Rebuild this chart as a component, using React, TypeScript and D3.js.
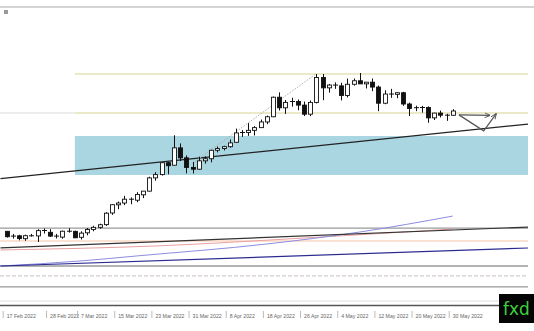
import React from "react";
import * as d3 from "d3";

const leadDates = ["16 Feb 2022"];
const candleDates = [
  "17 Feb 2022","18 Feb 2022","21 Feb 2022","22 Feb 2022","23 Feb 2022","24 Feb 2022","25 Feb 2022","28 Feb 2022",
  "1 Mar 2022","2 Mar 2022","3 Mar 2022","4 Mar 2022","7 Mar 2022","8 Mar 2022","9 Mar 2022","10 Mar 2022","11 Mar 2022",
  "14 Mar 2022","15 Mar 2022","16 Mar 2022","17 Mar 2022","18 Mar 2022","21 Mar 2022","22 Mar 2022","23 Mar 2022","24 Mar 2022","25 Mar 2022",
  "28 Mar 2022","29 Mar 2022","30 Mar 2022","31 Mar 2022","1 Apr 2022","4 Apr 2022","5 Apr 2022","6 Apr 2022","7 Apr 2022","8 Apr 2022",
  "11 Apr 2022","12 Apr 2022","13 Apr 2022","14 Apr 2022","15 Apr 2022","18 Apr 2022","19 Apr 2022","20 Apr 2022","21 Apr 2022","22 Apr 2022",
  "25 Apr 2022","26 Apr 2022","27 Apr 2022","28 Apr 2022","29 Apr 2022","2 May 2022","3 May 2022","4 May 2022","5 May 2022","6 May 2022",
  "9 May 2022","10 May 2022","11 May 2022","12 May 2022","13 May 2022","16 May 2022","17 May 2022","18 May 2022","19 May 2022","20 May 2022",
  "23 May 2022","24 May 2022","25 May 2022","26 May 2022","27 May 2022","30 May 2022"
];
const futureDates = ["31 May 2022","1 Jun 2022","2 Jun 2022","3 Jun 2022","6 Jun 2022","7 Jun 2022","8 Jun 2022","9 Jun 2022","10 Jun 2022","13 Jun 2022","14 Jun 2022","15 Jun 2022"];

const opens = [
  115.47,114.94,115.02,114.73,115.02,115.01,115.52,115.37,
  114.99,114.89,115.48,115.47,114.87,115.32,115.66,115.87,116.14,
  117.31,118.13,118.31,118.69,118.59,119.13,119.50,120.83,121.16,122.35,
  122.10,123.84,122.84,121.88,121.70,122.54,122.75,123.60,123.78,123.96,
  124.40,125.34,125.38,125.60,125.87,126.44,126.96,128.92,127.86,128.40,
  128.49,128.13,127.22,128.40,130.90,129.86,130.14,130.06,129.09,130.22,
  130.57,130.26,130.43,129.94,128.32,129.24,129.21,129.37,128.24,127.79,
  127.87,127.89,126.85,127.33,127.12,127.11
];
const highs = [
  115.50,115.21,115.12,115.14,115.21,115.69,115.76,115.69,
  115.21,115.54,115.79,115.53,115.47,115.80,116.02,116.23,117.39,
  118.18,118.45,119.03,118.87,119.40,119.51,120.95,121.41,122.42,122.44,
  125.10,124.29,123.08,122.43,122.96,122.98,123.65,123.98,124.05,124.68,
  125.77,125.63,126.32,126.02,126.68,127.08,128.99,129.41,128.64,128.87,
  128.70,128.48,128.59,131.25,131.25,130.25,130.41,130.37,130.79,130.80,
  131.35,130.44,130.80,130.09,129.62,129.76,129.40,129.46,128.38,128.07,
  128.05,128.00,127.36,127.58,127.26,127.72
];
const lows = [
  114.84,114.74,114.57,114.52,114.94,114.40,115.25,114.91,
  114.75,114.73,115.34,114.81,114.65,115.07,115.47,115.73,116.02,
  117.12,117.69,118.10,118.19,118.39,118.80,119.46,120.54,121.06,121.19,
  122.08,122.52,121.28,121.27,121.66,122.26,122.39,123.39,123.58,123.86,
  124.34,124.94,125.04,125.08,125.87,126.22,126.92,127.59,127.25,127.98,
  127.61,127.03,127.02,128.30,128.62,129.38,129.76,128.60,128.90,130.08,
  130.32,129.80,129.53,127.52,128.22,128.86,128.82,128.06,127.03,127.52,
  127.37,126.36,126.63,126.89,126.55,127.07
];
const closes = [
  114.93,114.99,114.74,115.03,115.00,115.54,115.55,114.99,
  114.88,115.48,115.47,114.82,115.29,115.66,115.87,116.13,117.29,
  118.14,118.31,118.69,118.59,119.16,119.50,120.83,121.16,122.35,122.05,
  123.84,122.84,121.87,121.70,122.54,122.75,123.60,123.77,123.96,124.34,
  125.34,125.38,125.60,125.87,126.44,126.96,128.92,127.86,128.40,128.49,
  128.13,127.22,128.40,130.90,129.86,130.14,130.06,129.09,130.22,130.57,
  130.26,130.43,129.94,128.32,129.24,129.21,129.37,128.24,127.79,127.87,
  127.89,126.85,127.33,127.12,127.11,127.54
];

const tickLabels = [
  "17 Feb 2022","28 Feb 2022","7 Mar 2022","15 Mar 2022","23 Mar 2022","31 Mar 2022","8 Apr 2022",
  "18 Apr 2022","26 Apr 2022","4 May 2022","12 May 2022","20 May 2022","30 May 2022"
];

const zoneStartDate = "4 Mar 2022";
const zonePrices = [125.03, 121.12];
const yellowLevels = [131.25, 127.34];
const grayLevels = [115.8, 111.99, 109.9];
const dashedLevel = 111.0;
const orangeLevel = 114.5;
const leftStubLevel = 127.34;

const upperTrend = [{ d: "16 Feb 2022", p: 120.75 }, { d: "30 May 2022", p: 125.45 }];
const lowerBlackTrend = [{ d: "16 Feb 2022", p: 113.8 }, { d: "30 May 2022", p: 115.6 }];
const lowerBlueTrend = [{ d: "16 Feb 2022", p: 111.99 }, { d: "30 May 2022", p: 113.54 }];
const dottedTrend = [{ d: "31 Mar 2022", p: 122.3 }, { d: "28 Apr 2022", p: 131.3 }];
const lavenderMA = [
  { d: "16 Feb 2022", p: 111.99 }, { d: "7 Mar 2022", p: 112.5 }, { d: "18 Mar 2022", p: 113.0 },
  { d: "18 Apr 2022", p: 114.2 }, { d: "9 May 2022", p: 115.4 }, { d: "30 May 2022", p: 117.0 }
];
const pinkMA = [
  { d: "16 Feb 2022", p: 113.6 }, { d: "23 Mar 2022", p: 114.0 }, { d: "26 Apr 2022", p: 114.8 }, { d: "30 May 2022", p: 115.7 }
];
const patternLegs = [
  { d: "31 May 2022", p: 127.15 }, { d: "6 Jun 2022", p: 125.55 }, { d: "8 Jun 2022", p: 127.25 }
];
const patternArrow = [{ d: "31 May 2022", p: 127.15 }, { d: "7 Jun 2022", p: 127.1 }];

const W = 534;
const H = 331;
const RIGHT = 528;
const TOP = 7;
const AXIS_Y = 305;

export default function App() {
  const allDates = [...leadDates, ...candleDates, ...futureDates];
  const idx = new Map(allDates.map((d, i) => [d, i]));
  const x = d3.scaleLinear().domain([0, allDates.length - 1]).range([0.5, 0.5 + 6.195 * (allDates.length - 1)]);
  const xd = (d: string) => x(idx.get(d) as number);
  const y = d3.scaleLinear().domain([108.08, 137.97]).range([AXIS_Y, TOP]);

  const candles = candleDates.map((d, i) => ({ d, o: opens[i], h: highs[i], l: lows[i], c: closes[i] }));

  const ray = (pts: { d: string; p: number }[]) => {
    const x1 = xd(pts[0].d), y1 = y(pts[0].p), x2 = xd(pts[1].d), y2 = y(pts[1].p);
    const slope = (y2 - y1) / (x2 - x1);
    return { x1, y1, x2: RIGHT, y2: y1 + slope * (RIGHT - x1) };
  };
  const lineGen = d3.line<{ d: string; p: number }>().x((p) => xd(p.d)).y((p) => y(p.p)).curve(d3.curveMonotoneX);
  const polyGen = d3.line<{ d: string; p: number }>().x((p) => xd(p.d)).y((p) => y(p.p));

  const ut = ray(upperTrend);
  const lbt = ray(lowerBlackTrend);
  const lbl = ray(lowerBlueTrend);
  const zx = xd(zoneStartDate);
  const bw = 4;

  return (
    <svg width={W} height={H} style={{ position: "absolute", left: 0, top: 0, background: "#fff" }}
      fontFamily="'Liberation Sans', Arial, sans-serif">
      <defs>
        <clipPath id="plot"><rect x={0} y={TOP} width={RIGHT} height={AXIS_Y - TOP} /></clipPath>
        <marker id="arr" viewBox="0 0 10 10" refX="9" refY="5" markerWidth="5" markerHeight="5" orient="auto">
          <path d="M0,1 L10,5 L0,9" fill="none" stroke="#555" strokeWidth="1.5" />
        </marker>
      </defs>
      <rect x={0} y={0} width={W} height={H} fill="#fff" />
      <line x1={0} x2={W} y1={TOP} y2={TOP} stroke="#aaa" strokeWidth={1.2} />
      <rect x={4} y={10} width={4} height={4} fill="#999" />

      <g clipPath="url(#plot)">
        {/* support zone */}
        <rect x={zx} y={y(zonePrices[0])} width={RIGHT - zx} height={y(zonePrices[1]) - y(zonePrices[0])} fill="#a9d6e1" />
        {/* yellow levels */}
        {yellowLevels.map((p, i) => (
          <line key={"yl" + i} x1={zx} x2={RIGHT} y1={y(p)} y2={y(p)} stroke="#e4e2b4" strokeWidth={1.3} />
        ))}
        <line x1={0} x2={zx} y1={y(leftStubLevel)} y2={y(leftStubLevel)} stroke="#dcdcdc" strokeWidth={1} />
        {/* gray levels */}
        {grayLevels.map((p, i) => (
          <line key={"gl" + i} x1={0} x2={RIGHT} y1={y(p)} y2={y(p)} stroke="#9a9a9a" strokeWidth={1.3} />
        ))}
        <line x1={0} x2={RIGHT} y1={y(dashedLevel)} y2={y(dashedLevel)} stroke="#cbbfbf" strokeWidth={1} strokeDasharray="4,2" />
        <line x1={0} x2={RIGHT} y1={y(orangeLevel)} y2={y(orangeLevel)} stroke="#f5c6a8" strokeWidth={1.2} />
        {/* MAs */}
        <path d={lineGen(pinkMA) || ""} fill="none" stroke="#e9a0a0" strokeWidth={1} />
        <path d={lineGen(lavenderMA) || ""} fill="none" stroke="#8c8ce0" strokeWidth={1} />
        {/* trends */}
        <line {...lbl} stroke="#2a2a90" strokeWidth={1.2} />
        <line {...lbt} stroke="#333" strokeWidth={1.2} />
        <line {...ut} stroke="#222" strokeWidth={1.2} />
        <line x1={xd(dottedTrend[0].d)} y1={y(dottedTrend[0].p)} x2={xd(dottedTrend[1].d)} y2={y(dottedTrend[1].p)}
          stroke="#b8a8a8" strokeWidth={1} strokeDasharray="1.5,1.5" />
        {/* candles */}
        {candles.map((k) => {
          const cx = Math.round(xd(k.d)) + 0.5;
          const yo = y(k.o), yc = y(k.c);
          const top = Math.min(yo, yc), h = Math.abs(yo - yc);
          const bull = k.c >= k.o;
          return (
            <g key={k.d}>
              <line x1={cx} x2={cx} y1={y(k.h)} y2={y(k.l)} stroke="#111" strokeWidth={1} />
              {h < 1.2 ? (
                <line x1={cx - bw / 2 - 0.5} x2={cx + bw / 2 + 0.5} y1={top} y2={top} stroke="#111" strokeWidth={1} />
              ) : (
                <rect x={cx - bw / 2} y={top} width={bw} height={h} fill={bull ? "#fff" : "#111"} stroke="#111" strokeWidth={0.9} />
              )}
            </g>
          );
        })}
        {/* pattern */}
        <path d={polyGen(patternLegs) || ""} fill="none" stroke="#555" strokeWidth={1.2} markerEnd="url(#arr)" />
        <line x1={xd(patternArrow[0].d)} y1={y(patternArrow[0].p)} x2={xd(patternArrow[1].d)} y2={y(patternArrow[1].p)}
          stroke="#555" strokeWidth={1.2} markerEnd="url(#arr)" />
      </g>

      {/* axis */}
      <line x1={0} x2={RIGHT} y1={301} y2={301} stroke="#ddd" strokeWidth={1} />
      <line x1={0} x2={RIGHT} y1={AXIS_Y + 0.5} y2={AXIS_Y + 0.5} stroke="#555" strokeWidth={1.4} />
      {tickLabels.map((t) => {
        const tx = xd(t);
        return (
          <g key={t}>
            <line x1={tx - 3.5} x2={tx - 3.5} y1={311} y2={318} stroke="#aaa" strokeWidth={0.8} />
            <text x={tx} y={318} fontSize={5.2} fill="#666">{t}</text>
          </g>
        );
      })}

      {/* logo */}
      <rect x={499} y={294} width={35} height={29} fill="#050505" />
      <text x={516.5} y={315} fontSize={17} fill="#3fcf3f" textAnchor="middle" fontFamily="'DejaVu Sans', sans-serif">fxd</text>
    </svg>
  );
}
